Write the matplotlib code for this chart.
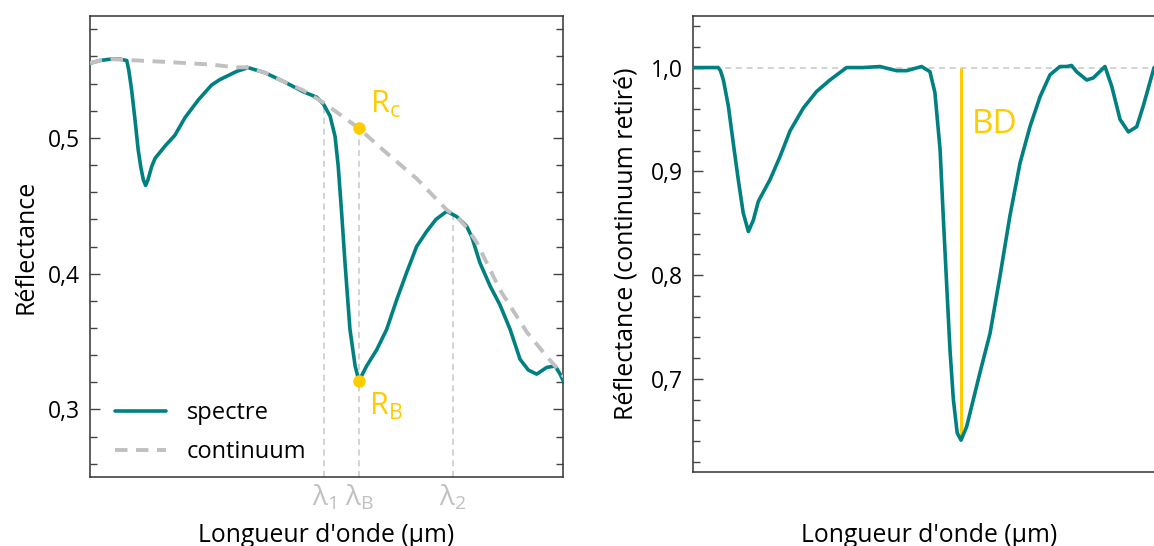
import matplotlib
matplotlib.use('Agg')
import matplotlib.pyplot as plt
from matplotlib.ticker import MultipleLocator, FuncFormatter

plt.rcParams['font.family'] = ['Open Sans', 'DejaVu Sans']
plt.rcParams['mathtext.default'] = 'regular'

# --- données (longueur d'onde en µm) ---
wl_spec = [0.400, 0.444, 0.489, 0.533, 0.563, 0.572, 0.585, 0.600, 0.614, 0.626,
           0.637, 0.647, 0.657, 0.674, 0.689, 0.733, 0.777, 0.822, 0.881, 0.940,
           0.977, 1.014, 1.051, 1.088, 1.097, 1.177, 1.266, 1.347, 1.406, 1.436,
           1.466, 1.488, 1.502, 1.517, 1.532, 1.554, 1.577, 1.594, 1.628, 1.673,
           1.717, 1.762, 1.806, 1.850, 1.894, 1.936, 1.984, 2.028, 2.072, 2.095,
           2.131, 2.176, 2.220, 2.265, 2.309, 2.346, 2.383, 2.428, 2.465, 2.487,
           2.501]
refl_spec = [0.555, 0.557, 0.558, 0.558, 0.557, 0.550, 0.535, 0.513, 0.491, 0.478,
             0.469, 0.465, 0.469, 0.479, 0.485, 0.494, 0.502, 0.515, 0.528, 0.539,
             0.543, 0.546, 0.549, 0.551, 0.552, 0.548, 0.541, 0.534, 0.530, 0.525,
             0.516, 0.501, 0.479, 0.445, 0.408, 0.359, 0.332, 0.321, 0.332, 0.344,
             0.359, 0.381, 0.401, 0.420, 0.431, 0.440, 0.446, 0.442, 0.435, 0.427,
             0.408, 0.391, 0.377, 0.359, 0.337, 0.329, 0.326, 0.331, 0.332, 0.326,
             0.321]

wl_cont = [0.400, 0.444, 0.493, 0.614, 0.733, 0.940, 1.044, 1.097, 1.177, 1.266,
           1.347, 1.436, 1.495, 1.594, 1.702, 1.850, 1.984, 2.028, 2.072, 2.117,
           2.220, 2.339, 2.428, 2.465, 2.504]
refl_cont = [0.555, 0.557, 0.558, 0.557, 0.556, 0.554, 0.552, 0.552, 0.548, 0.541,
             0.535, 0.526, 0.519, 0.507, 0.491, 0.470, 0.447, 0.442, 0.434, 0.423,
             0.388, 0.357, 0.339, 0.332, 0.324]

wl_cr = [0.400, 0.512, 0.522, 0.535, 0.557, 0.579, 0.601, 0.623, 0.646, 0.668,
         0.690, 0.742, 0.786, 0.831, 0.890, 0.949, 1.008, 1.082, 1.156, 1.230,
         1.304, 1.349, 1.415, 1.452, 1.474, 1.497, 1.511, 1.526, 1.541, 1.556,
         1.573, 1.590, 1.615, 1.674, 1.719, 1.763, 1.807, 1.852, 1.896, 1.941,
         1.985, 2.029, 2.059, 2.081, 2.103, 2.148, 2.177, 2.229, 2.259, 2.296,
         2.333, 2.370, 2.399, 2.447]
refl_cr = [1.000, 1.000, 0.997, 0.988, 0.963, 0.927, 0.892, 0.860, 0.842, 0.853,
           0.871, 0.892, 0.914, 0.939, 0.961, 0.977, 0.988, 1.000, 1.000, 1.001,
           0.997, 0.997, 1.001, 0.996, 0.976, 0.921, 0.857, 0.792, 0.728, 0.680,
           0.648, 0.641, 0.654, 0.706, 0.744, 0.799, 0.857, 0.908, 0.943, 0.972,
           0.993, 1.001, 1.001, 1.002, 0.996, 0.988, 0.990, 1.001, 0.982, 0.950,
           0.938, 0.943, 0.963, 1.000]

lam_1, lam_b, lam_2 = 1.440, 1.594, 2.010
top_1, r_c, top_2 = 0.525, 0.507, 0.443
r_b = 0.321
bd_x, bd_min = 1.590, 0.641

left_yticks = [0.3, 0.4, 0.5]
right_yticks = [0.7, 0.8, 0.9, 1.0]

teal = '#008080'
grey = '#c0c0c0'
gold = '#ffcc00'

fmt = FuncFormatter(lambda v, p: f'{v:.1f}'.replace('.', ','))

fig = plt.figure(figsize=(11.54, 5.46), dpi=100)
ax1 = fig.add_axes([0.0780, 0.1258, 0.4099, 0.8454])
ax2 = fig.add_axes([0.6005, 0.1350, 0.4099, 0.8363])

# --- panneau gauche ---
ax1.plot(wl_spec, refl_spec, color=teal, lw=2.6, label='spectre', zorder=3,
         solid_joinstyle='round', solid_capstyle='round')
ax1.plot(wl_cont, refl_cont, color=grey, lw=2.8, ls=(0, (3.2, 2.2)), label='continuum', zorder=4)
ylo = 0.25
ax1.vlines([lam_1, lam_b, lam_2], ylo, [top_1, r_c, top_2], colors='#c8c8c8',
           lw=1.1, linestyles=(0, (4, 3)), zorder=2)
ax1.plot([lam_b, lam_b], [r_c, r_b], 'o', color=gold, ms=8, zorder=5)
ax1.annotate('R$_c$', xy=(lam_b, r_c), xytext=(8, 11), textcoords='offset points',
             color=gold, fontsize=22, ha='left', va='baseline')
ax1.annotate('R$_B$', xy=(lam_b, r_b), xytext=(7, -24.5), textcoords='offset points',
             color=gold, fontsize=22, ha='left', va='baseline')

ax1.set_xlim(0.4, 2.5)
ax1.set_ylim(ylo, 0.59)
ax1.set_xticks([lam_1, lam_b, lam_2])
ax1.set_xticklabels(['λ$_1$', 'λ$_B$', 'λ$_2$'], color='#c0c0c0', fontsize=20)
ax1.tick_params(axis='x', length=0, pad=4)
ax1.set_yticks(left_yticks)
ax1.yaxis.set_major_formatter(fmt)
ax1.yaxis.set_minor_locator(MultipleLocator(0.02))
ax1.set_ylabel('Réflectance', fontsize=18)
ax1.yaxis.label.set_va('baseline')
ax1.yaxis.set_label_coords(-0.121, 0.5)
ax1.set_xlabel("Longueur d'onde (µm)", fontsize=17.8)
ax1.xaxis.label.set_va('baseline')
ax1.xaxis.set_label_coords(0.5, -0.140)
ax1.legend(loc='lower left', bbox_to_anchor=(0.053, 0.028), frameon=False, fontsize=17,
           borderpad=0, borderaxespad=0, handlelength=2.15, handletextpad=0.9,
           labelspacing=0.66)

# --- panneau droit ---
ax2.axhline(1.0, color='#c8c8c8', lw=1.1, ls=(0, (4, 3)), zorder=1)
ax2.plot(wl_cr, refl_cr, color=teal, lw=2.6, zorder=3,
         solid_joinstyle='round', solid_capstyle='round')
ax2.vlines(bd_x, bd_min, 1.0, colors=gold, lw=2.2, zorder=2)
ax2.annotate('BD', xy=(bd_x, 1.0), xytext=(8, -47), textcoords='offset points',
             color=gold, fontsize=24, ha='left', va='baseline')
ax2.set_xlim(0.4, 2.5)
ax2.set_ylim(0.61, 1.05)
ax2.set_xticks([])
ax2.set_yticks(right_yticks)
ax2.yaxis.set_major_formatter(fmt)
ax2.yaxis.set_minor_locator(MultipleLocator(0.02))
ax2.set_ylabel('Réflectance (continuum retiré)', fontsize=18)
ax2.yaxis.label.set_va('baseline')
ax2.yaxis.set_label_coords(-0.127, 0.5)
ax2.set_xlabel("Longueur d'onde (µm)", fontsize=17.8)
ax2.xaxis.label.set_va('baseline')
ax2.xaxis.set_label_coords(0.5, -0.1527)

for ax in (ax1, ax2):
    ax.tick_params(axis='y', which='both', direction='in', left=True, right=True,
                   labelsize=16.5, pad=7, color='#444444', width=1)
    ax.tick_params(axis='y', which='major', length=7)
    ax.tick_params(axis='y', which='minor', length=5)
    for s in ax.spines.values():
        s.set_color('#333333')
        s.set_linewidth(1.1)

fig.savefig('out.png', dpi=100)
